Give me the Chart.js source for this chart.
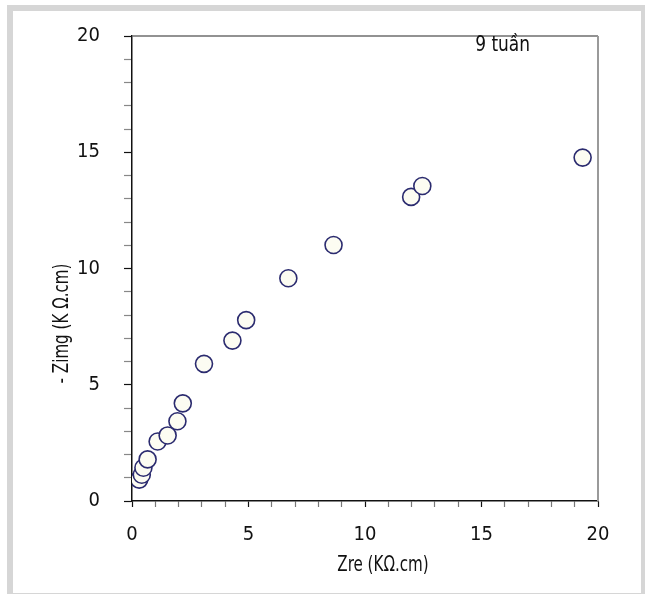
<!DOCTYPE html>
<html>
<head>
<meta charset="utf-8">
<script src="https://cdn.jsdelivr.net/npm/chart.js@4/dist/chart.umd.min.js"></script>
<style>
  html, body { margin: 0; padding: 0; background: #fff; width: 645px; height: 594px; overflow: hidden; }
  #wrap { position: relative; width: 645px; height: 594px; }
  canvas { position: absolute; left: 0; top: 0; }
  #frame { position: absolute; left: 7px; top: 5px; width: 640px; height: 594px; border: 6px solid #d6d6d6; box-sizing: border-box; pointer-events: none; }
</style>
</head>
<body>
<div id="wrap">
  <canvas id="c" width="645" height="594"></canvas>
  <div id="frame"></div>
</div>
<script>
// Data
const zre  = [0.31, 0.42, 0.49, 0.67, 1.10, 1.53, 1.95, 2.18, 3.09, 4.31, 4.90, 6.71, 8.65, 11.98, 12.46, 19.34];
const zimg = [0.92, 1.13, 1.43, 1.79, 2.56, 2.82, 3.43, 4.20, 5.90, 6.90, 7.78, 9.58, 11.01, 13.08, 13.55, 14.77];
const xTicks = [0, 5, 10, 15, 20];
const yTicks = [0, 5, 10, 15, 20];
const xTitle = 'Zre (KΩ.cm)';
const yTitle = '- Zimg (K Ω.cm)';
const note = '9 tuần';

const FONT = "'DejaVu Sans Condensed', 'Liberation Sans Narrow', 'DejaVu Sans', sans-serif";

const points = zre.map((x, i) => ({ x: x, y: zimg[i] }));

function squeezedText(ctx, text, x, y, rot, sq) {
  ctx.save();
  ctx.translate(x, y);
  if (rot) ctx.rotate(rot);
  ctx.scale(sq, 1);
  ctx.fillText(text, 0, 0);
  ctx.restore();
}

const extras = {
  id: 'extras',
  beforeDatasetsDraw(chart) {
    const { ctx, chartArea: a } = chart;
    ctx.save();
    ctx.lineWidth = 1.5;
    ctx.strokeStyle = '#6e6e6e';
    ctx.beginPath();
    ctx.moveTo(a.left, a.top);
    ctx.lineTo(a.right, a.top);
    ctx.stroke();
    ctx.strokeStyle = '#9a9a9a';
    ctx.lineWidth = 2;
    ctx.beginPath();
    ctx.moveTo(a.right, a.top);
    ctx.lineTo(a.right, a.bottom);
    ctx.stroke();
    ctx.restore();
  },
  afterDraw(chart) {
    const { ctx, chartArea: a, scales } = chart;
    ctx.save();
    ctx.fillStyle = '#111';
    ctx.font = '21px ' + FONT;
    ctx.textAlign = 'center';
    ctx.textBaseline = 'middle';
    squeezedText(ctx, xTitle, (a.left + a.right) / 2 + 18, a.bottom + 65, 0, 0.8);
    squeezedText(ctx, yTitle, a.left - 69, (a.top + a.bottom) / 2 + 55, -Math.PI / 2, 0.8);
    ctx.textAlign = 'left';
    squeezedText(ctx, note, scales.x.getPixelForValue(14.73), scales.y.getPixelForValue(19.6), 0, 0.9);
    ctx.restore();
  }
};

new Chart(document.getElementById('c'), {
  type: 'scatter',
  data: {
    datasets: [{
      data: points,
      pointRadius: 8.5,
      pointHoverRadius: 8.5,
      pointBorderWidth: 1.6,
      pointBackgroundColor: '#fcfcf2',
      pointBorderColor: '#2b2b6f'
    }]
  },
  options: {
    responsive: false,
    devicePixelRatio: 1,
    animation: false,
    layout: { padding: { left: 0, top: 34, right: 47, bottom: 33 } },
    plugins: { legend: { display: false }, tooltip: { enabled: false } },
    scales: {
      x: {
        type: 'linear', min: 0, max: 20,
        afterFit(s) { s.height = 60; },
        ticks: {
          stepSize: 1, autoSkip: false, maxRotation: 0, padding: 16,
          color: '#111', font: { size: 20, family: FONT },
          callback: v => (xTicks.includes(v) ? String(v) : '')
        },
        grid: {
          drawOnChartArea: false, drawTicks: true, tickLength: 6, tickWidth: 1.2,
          tickColor: c => (c.tick && c.tick.value % 5 === 0 ? '#111' : '#777')
        },
        border: { display: true, color: '#111', width: 1.5 }
      },
      y: {
        type: 'linear', min: 0, max: 20,
        afterFit(s) { s.width = 132; },
        ticks: {
          stepSize: 1, autoSkip: false, padding: 24,
          color: '#111', font: { size: 20, family: FONT },
          callback: v => (yTicks.includes(v) ? String(v) : '')
        },
        grid: {
          drawOnChartArea: false, drawTicks: true, tickLength: 8, tickWidth: 1.2,
          tickColor: c => (c.tick && c.tick.value % 5 === 0 ? '#111' : '#888')
        },
        border: { display: true, color: '#111', width: 1.5 }
      }
    }
  },
  plugins: [extras]
});
</script>
</body>
</html>
